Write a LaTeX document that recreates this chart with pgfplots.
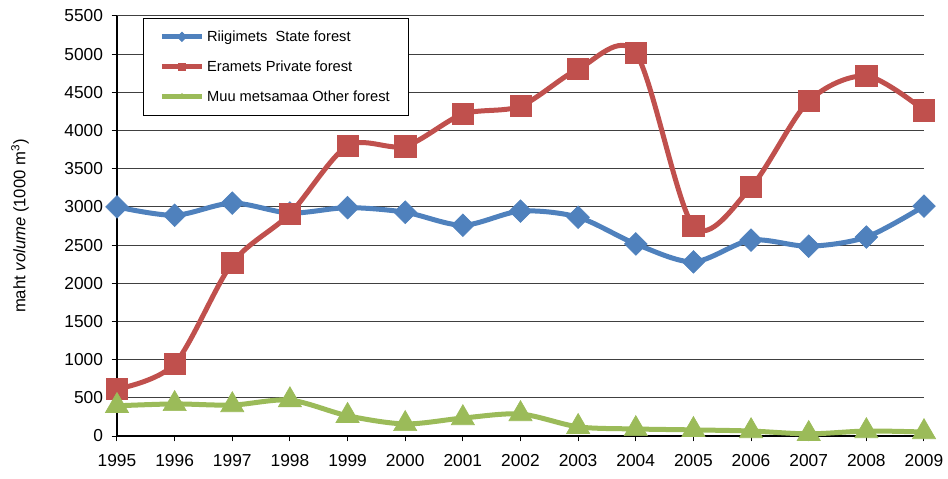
\documentclass[border=0pt]{standalone}
\usepackage{pgfplots}
\pgfplotsset{compat=1.18}
\usepackage{fontspec}
\setmainfont{Liberation Sans}
\definecolor{cblue}{HTML}{4F81BD}
\definecolor{cred}{HTML}{C0504D}
\definecolor{cgreen}{HTML}{9BBB59}
\begin{document}
\begin{tikzpicture}
\useasboundingbox (-87.75pt,-31.5pt) rectangle (623.25pt,327pt);
\begin{axis}[
  scale only axis, width=605.25pt, height=315pt,
  xmin=1995, xmax=2009, ymin=0, ymax=5500,
  xtick={1995,...,2009}, ytick={0,500,...,5500},
  /pgf/number format/1000 sep={},
  /pgf/number format/assume math mode=true,
  axis lines*=left,
  axis line style={black, line width=1pt},
  ymajorgrids, grid style={black!75, line width=0.75pt},
  tick align=outside, major tick length=4pt,
  tick style={black, line width=0.75pt},
  tick label style={font=\fontsize{13}{15}\selectfont},
  xticklabel style={yshift=-6pt},
  yticklabel style={xshift=-3pt},
  ylabel={maht \textit{volume} (1000 m\textsuperscript{3})},
  ylabel style={at={(axis description cs:-0.1202,0.5)}, anchor=center, font=\fontsize{12.5}{14}\selectfont},
  legend style={at={(0.0322,0.9952)}, anchor=north west, draw=black, line width=0.75pt, fill=white,
    font=\fontsize{11}{13}\selectfont, row sep=9pt, inner xsep=12pt, inner ysep=7pt},
  legend cell align=left,
  legend image code/.code={\draw[#1, mark size=2.5pt, mark repeat=2, mark phase=2] plot coordinates {(0pt,0pt) (15pt,0pt) (30pt,0pt)};},
  every axis plot/.append style={line width=3.75pt, smooth},
]
\addplot[cblue, mark=square*, mark size=6pt, mark options={rotate=45, line width=0.5pt}] coordinates {
(1995,3000) (1996,2890) (1997,3050) (1998,2920) (1999,2990) (2000,2930) (2001,2760) (2002,2945) (2003,2865) (2004,2515) (2005,2280) (2006,2565) (2007,2485) (2008,2605) (2009,3010)};
\addlegendentry{Riigimets\ \ State forest}
\addplot[cred, mark=square*, mark size=8pt, mark options={line width=0.5pt}] coordinates {
(1995,615) (1996,945) (1997,2265) (1998,2910) (1999,3800) (2000,3795) (2001,4215) (2002,4320) (2003,4805) (2004,5015) (2005,2750) (2006,3260) (2007,4385) (2008,4715) (2009,4265)};
\addlegendentry{Eramets Private forest}
\addplot[cgreen, mark=triangle*, mark size=10pt, mark options={line width=0.5pt}] coordinates {
(1995,395) (1996,420) (1997,405) (1998,470) (1999,265) (2000,158) (2001,235) (2002,288) (2003,120) (2004,92) (2005,80) (2006,65) (2007,28) (2008,65) (2009,52)};
\addlegendentry{Muu metsamaa Other forest}
\end{axis}
\end{tikzpicture}
\end{document}
